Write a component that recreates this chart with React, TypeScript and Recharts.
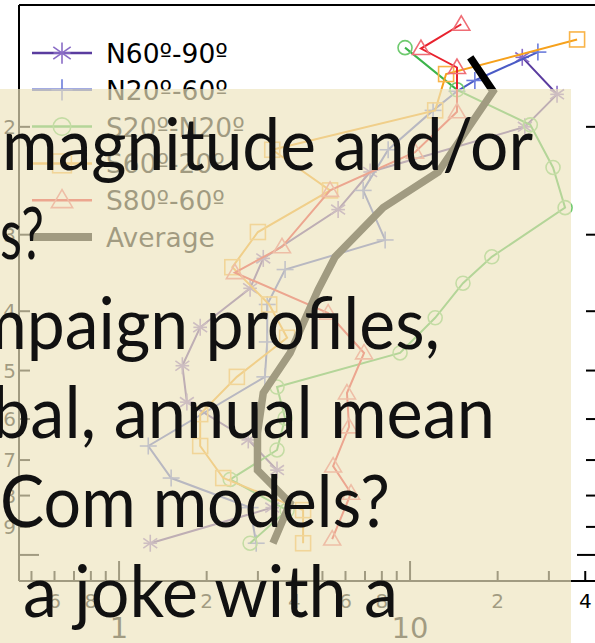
import { ScatterChart, Scatter, XAxis, YAxis, Legend } from "recharts";

// axis ranges (log scales) and ticks
const X_DOMAIN = [0.453, 43.9];
const Y_DOMAIN = [1.265, 11.03];
const X_TICKS = [0.5, 0.6, 0.7, 0.8, 0.9, 1, 2, 3, 4, 5, 6, 7, 8, 9, 10, 20, 30, 40];
const Y_TICKS = [2, 3, 4, 5, 6, 7, 8, 9, 10];
const X_LABEL_DIGITS = [2, 4, 6, 8];

// profiles: value (x) at level (y)
const N60_X = [24.3, 32.0, 24.8, 7.29, 5.66, 3.13, 2.82, 1.9, 1.65, 1.71, 2.78, 3.49, 3.36, 1.28];
const N60_P = [1.54, 1.77, 2.0, 2.37, 2.73, 3.28, 3.67, 4.25, 4.91, 5.63, 6.49, 7.27, 8.37, 9.57];

const N20_X = [27.5, 16.7, 14.5, 12.0, 8.41, 6.9, 8.21, 3.72, 3.23, 3.23, 3.17, 1.26, 1.51, 2.82, 2.96];
const N20_P = [1.51, 1.68, 1.75, 1.88, 2.18, 2.54, 3.06, 3.42, 3.9, 4.49, 5.12, 6.64, 7.49, 8.37, 9.57];

const S20_X = [9.61, 14.5, 25.9, 31.0, 34.1, 19.1, 15.2, 12.2, 9.24, 3.49, 3.72, 3.49, 2.41, 3.78, 2.82];
const S20_P = [1.485, 1.74, 1.985, 2.33, 2.71, 3.26, 3.6, 4.1, 4.68, 5.32, 5.98, 6.74, 7.53, 8.45, 9.57];

const S60_X = [37.5, 13.3, 12.2, 3.36, 5.31, 3.0, 2.45, 3.28, 3.78, 2.54, 1.9, 1.9, 2.28, 4.29, 4.29];
const S60_P = [1.44, 1.64, 1.88, 2.18, 2.54, 2.97, 3.39, 3.9, 4.42, 5.12, 5.89, 6.64, 7.49, 8.45, 9.57];

const S80_X = [15.0, 10.9, 14.5, 14.5, 10.4, 5.31, 3.63, 2.5, 5.23, 6.95, 6.07, 6.17, 5.44, 6.27, 5.4];
const S80_P = [1.36, 1.49, 1.6, 1.89, 2.2, 2.54, 3.14, 3.46, 4.03, 4.68, 5.44, 6.18, 7.16, 7.93, 9.42];

const AVG_X = [16.1, 19.3, 12.5, 8.08, 5.53, 4.83, 3.87, 3.13, 2.99, 2.99, 3.87, 3.38];
const AVG_P = [1.54, 1.75, 2.37, 2.71, 3.26, 3.69, 4.68, 5.44, 6.32, 7.27, 8.23, 9.57];

const SLIDE_LINES = [
  "magnitude and/or",
  "s?",
  "mpaign profiles,",
  "bal, annual mean",
  "Com models?",
  "a joke with a",
];

type Kind = "asterisk" | "plus" | "circle" | "square" | "triangle" | "none";

const toPoints = (xs: number[], ps: number[]) => xs.map((v, i) => ({ v, p: ps[i] }));

const SERIES: { name: string; data: { v: number; p: number }[]; line: string; mark: string; kind: Kind; width: number }[] = [
  { name: "N60º-90º", data: toPoints(N60_X, N60_P), line: "#5a3c9f", mark: "#8a6cc6", kind: "asterisk", width: 2 },
  { name: "N20º-60º", data: toPoints(N20_X, N20_P), line: "#4a5bc6", mark: "#6b7cdb", kind: "plus", width: 2 },
  { name: "S20º-N20º", data: toPoints(S20_X, S20_P), line: "#3cb44a", mark: "#6fca6f", kind: "circle", width: 2 },
  { name: "S60º-20º", data: toPoints(S60_X, S60_P), line: "#f6a11c", mark: "#f9b448", kind: "square", width: 2 },
  { name: "S80º-60º", data: toPoints(S80_X, S80_P), line: "#e8222e", mark: "#ef6d75", kind: "triangle", width: 2 },
  { name: "Average", data: toPoints(AVG_X, AVG_P), line: "#000000", mark: "#000000", kind: "none", width: 7.5 },
];

function Marker({ kind, cx, cy, color, s = 1 }: { kind: Kind; cx: number; cy: number; color: string; s?: number }) {
  const st = { fill: "none", stroke: color, strokeWidth: 1.6 };
  if (kind === "asterisk") {
    const r = 8.5 * s;
    const dx = r * 0.82;
    const dy = r * 0.57;
    return (
      <g {...st}>
        <line x1={cx} y1={cy - r} x2={cx} y2={cy + r} />
        <line x1={cx - dx} y1={cy - dy} x2={cx + dx} y2={cy + dy} />
        <line x1={cx - dx} y1={cy + dy} x2={cx + dx} y2={cy - dy} />
        <line x1={cx - r * 0.8} y1={cy} x2={cx + r * 0.8} y2={cy} />
      </g>
    );
  }
  if (kind === "plus") {
    const r = 8.5 * s;
    return (
      <g {...st}>
        <line x1={cx} y1={cy - r} x2={cx} y2={cy + r} />
        <line x1={cx - r} y1={cy} x2={cx + r} y2={cy} />
      </g>
    );
  }
  if (kind === "circle") return <circle cx={cx} cy={cy} r={7 * s} {...st} />;
  if (kind === "square") {
    const h = 7.5 * s;
    return <rect x={cx - h} y={cy - h} width={2 * h} height={2 * h} {...st} />;
  }
  if (kind === "triangle") {
    const r = 8.5 * s;
    return <polygon points={`${cx},${cy - r} ${cx - r},${cy + r * 0.7} ${cx + r},${cy + r * 0.7}`} {...st} />;
  }
  return <g />;
}

const isMajor = (v: number) => Math.abs(Math.log10(v) - Math.round(Math.log10(v))) < 1e-6;
const leadDigit = (v: number) => Math.round(v / Math.pow(10, Math.floor(Math.log10(v) + 1e-9)));

const FONT = "DejaVu Sans";

function BottomTick({ x, y, payload }: any) {
  const v = payload.value;
  const major = isMajor(v);
  const d = leadDigit(v);
  return (
    <g>
      <line x1={x} x2={x} y1={y} y2={y - (major ? 20 : 10)} stroke="#000" strokeWidth={2} />
      {major ? (
        <text x={x} y={y + 57} textAnchor="middle" fontSize={29} fontFamily={FONT} fill="#000">
          {v}
        </text>
      ) : X_LABEL_DIGITS.includes(d) ? (
        <text x={x} y={y + 27} textAnchor="middle" fontSize={20} fontFamily={FONT} fill="#000">
          {d}
        </text>
      ) : null}
    </g>
  );
}

function TopTick({ x, y, payload }: any) {
  const major = isMajor(payload.value);
  return <line x1={x} x2={x} y1={y} y2={y + (major ? 20 : 10)} stroke="#000" strokeWidth={2} />;
}

function LeftTick({ x, y, payload }: any) {
  const v = payload.value;
  const major = isMajor(v);
  return (
    <g>
      <line x1={x} x2={x + (major ? 20 : 11)} y1={y} y2={y} stroke="#000" strokeWidth={2} />
      {!major && (
        <text x={x - 3} y={y + 7} textAnchor="end" fontSize={20} fontFamily={FONT} fill="#000">
          {v}
        </text>
      )}
    </g>
  );
}

function RightTick({ x, y, payload }: any) {
  const major = isMajor(payload.value);
  return <line x1={x} x2={x - (major ? 20 : 11)} y1={y} y2={y} stroke="#000" strokeWidth={2} />;
}

function LegendBox() {
  return (
    <svg width={250} height={225}>
      {SERIES.map((s, i) => {
        const cy = 18 + i * 36.8;
        return (
          <g key={s.name}>
            <line x1={0} x2={60} y1={cy} y2={cy} stroke={s.line} strokeWidth={s.kind === "none" ? 8 : 2.5} />
            <Marker kind={s.kind} cx={30} cy={cy} color={s.mark} s={1.25} />
            <text x={74} y={cy + 10} fontSize={26.5} fontFamily={FONT} fill="#000">
              {s.name}
            </text>
          </g>
        );
      })}
    </svg>
  );
}

const axisCommon = {
  type: "number" as const,
  scale: "log" as const,
  allowDataOverflow: true,
  interval: 0 as const,
  tickSize: 0,
  tickMargin: 0,
  tickLine: false,
  axisLine: { stroke: "#000", strokeWidth: 2 },
};

export default function App() {
  return (
    <div style={{ position: "fixed", left: 0, top: 0, width: 595, height: 643, overflow: "hidden", background: "#fff" }}>
      <ScatterChart width={640} height={643} margin={{ top: 4, right: 42, bottom: 61, left: 18 }}>
        <XAxis {...axisCommon} xAxisId="b" dataKey="v" domain={X_DOMAIN} ticks={X_TICKS} height={1} tick={<BottomTick />} />
        <XAxis {...axisCommon} xAxisId="t" orientation="top" domain={X_DOMAIN} ticks={X_TICKS} height={1} tick={<TopTick />} />
        <YAxis {...axisCommon} yAxisId="l" dataKey="p" reversed domain={Y_DOMAIN} ticks={Y_TICKS} width={1} tick={<LeftTick />} />
        <YAxis {...axisCommon} yAxisId="r" orientation="right" reversed domain={Y_DOMAIN} ticks={Y_TICKS} width={1} tick={<RightTick />} />
        <Legend
          layout="vertical"
          align="center"
          verticalAlign="middle"
          content={() => <LegendBox />}
          wrapperStyle={{ position: "absolute", left: 32, top: 35, width: 250, height: 225 }}
        />
        {SERIES.map((s) => (
          <Scatter
            key={s.name}
            name={s.name}
            xAxisId="b"
            yAxisId="l"
            data={s.data}
            line={{ stroke: s.line, strokeWidth: s.width, fill: "none" }}
            lineType="joint"
            shape={(props: any) => <Marker kind={s.kind} cx={props.cx} cy={props.cy} color={s.mark} />}
            isAnimationActive={false}
          />
        ))}
      </ScatterChart>
      <svg width={595} height={643} style={{ position: "absolute", left: 0, top: 0 }}>
        <rect x={0} y={89} width={571} height={554} fill="rgb(237,229,190)" fillOpacity={0.68} />
        {SLIDE_LINES.map((t, i) => {
          const starts = [2, 0, -29, -8, 0, 23];
          const ends = [533, 44, 440, 495, 390, 398];
          return (
            <text
              key={t}
              x={starts[i]}
              y={170 + i * 89.3}
              fontSize={72}
              fontFamily="Lato"
              fill="#111"
              textLength={ends[i] - starts[i]}
              lengthAdjust="spacingAndGlyphs"
            >
              {t}
            </text>
          );
        })}
      </svg>
    </div>
  );
}
